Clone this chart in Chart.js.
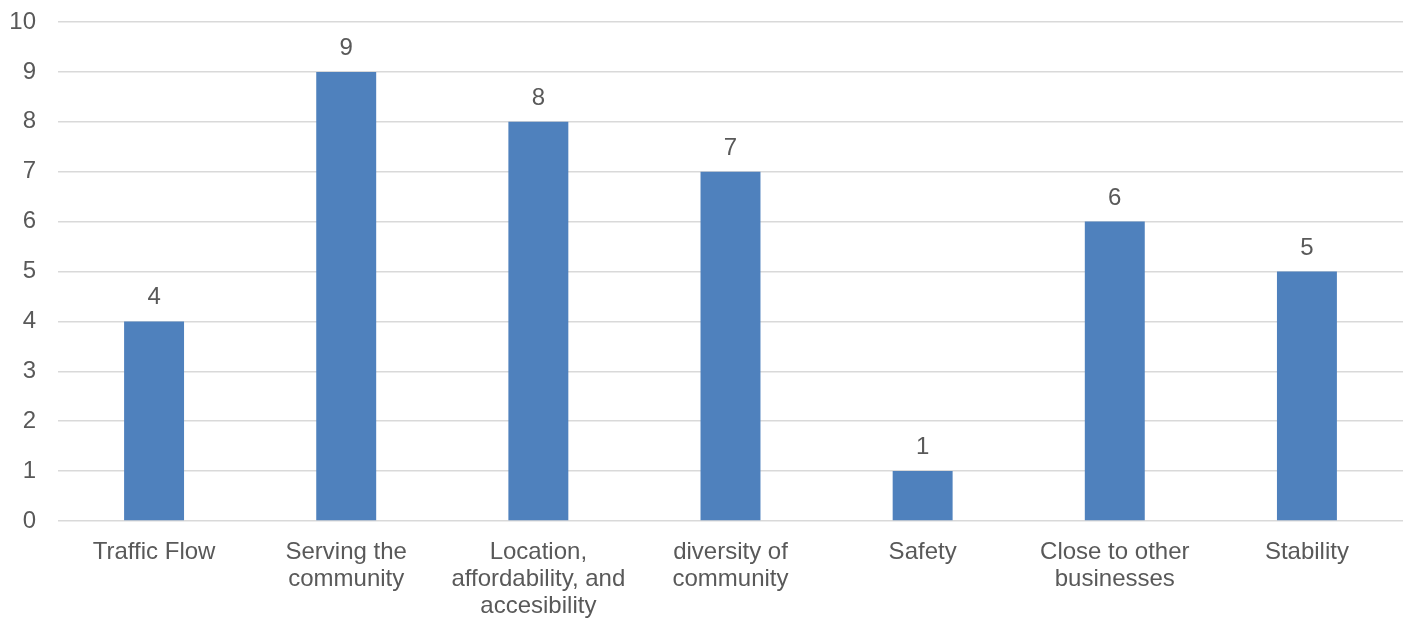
<!DOCTYPE html>
<html>
<head>
<meta charset="utf-8">
<script src="https://cdn.jsdelivr.net/npm/chart.js@4"></script>
<style>
  html, body { margin: 0; padding: 0; background: #fff; }
  #wrap { width: 1410px; height: 618px; }
</style>
</head>
<body>
<div id="wrap"><canvas id="reasonsChart"></canvas></div>
<script>
const categories = [
  'Traffic Flow',
  ['Serving the', 'community'],
  ['Location,', 'affordability, and', 'accesibility'],
  ['diversity of', 'community'],
  'Safety',
  ['Close to other', 'businesses'],
  'Stability'
];
const counts = [4, 9, 8, 7, 1, 6, 5];
const yTicks = [0, 1, 2, 3, 4, 5, 6, 7, 8, 9, 10];

const textColor = '#595959';
const fontFamily = '"Liberation Sans", Arial, sans-serif';

// value above each bar
const barValueLabels = {
  id: 'barValueLabels',
  afterDatasetsDraw(chart) {
    const ctx = chart.ctx;
    const meta = chart.getDatasetMeta(0);
    ctx.save();
    ctx.fillStyle = textColor;
    ctx.font = '24px ' + fontFamily;
    ctx.textAlign = 'center';
    ctx.textBaseline = 'alphabetic';
    meta.data.forEach(function (bar, i) {
      ctx.fillText(String(counts[i]), bar.x, bar.y - 17);
    });
    ctx.restore();
  }
};

const ctx = document.getElementById('reasonsChart').getContext('2d');
const chart = new Chart(ctx, {
  type: 'bar',
  data: {
    labels: categories,
    datasets: [{
      data: counts,
      backgroundColor: '#4F81BD',
      borderWidth: 0,
      categoryPercentage: 1,
      barPercentage: 0.312
    }]
  },
  options: {
    responsive: true,
    maintainAspectRatio: false,
    animation: false,
    layout: { padding: { left: 0, right: 7, top: 22, bottom: 0 } },
    plugins: {
      legend: { display: false },
      tooltip: { enabled: false }
    },
    scales: {
      x: {
        grid: { display: false },
        border: { display: false },
        afterFit(scale) { scale.height = 97; },
        ticks: {
          color: textColor,
          font: { family: fontFamily, size: 24, lineHeight: 1.13 },
          padding: 10,
          maxRotation: 0,
          autoSkip: false
        }
      },
      y: {
        min: 0,
        max: 10,
        afterFit(scale) {
          scale.width = 58;
          scale.paddingTop = 0;
          scale.paddingBottom = 0;
        },
        afterBuildTicks(scale) {
          scale.ticks = yTicks.map(function (v) { return { value: v }; });
        },
        grid: { color: '#D9D9D9', lineWidth: 1.5, drawTicks: false },
        border: { display: false },
        ticks: {
          color: textColor,
          font: { family: fontFamily, size: 24, lineHeight: 1 },
          padding: 22
        }
      }
    }
  },
  plugins: [barValueLabels]
});
</script>
</body>
</html>
